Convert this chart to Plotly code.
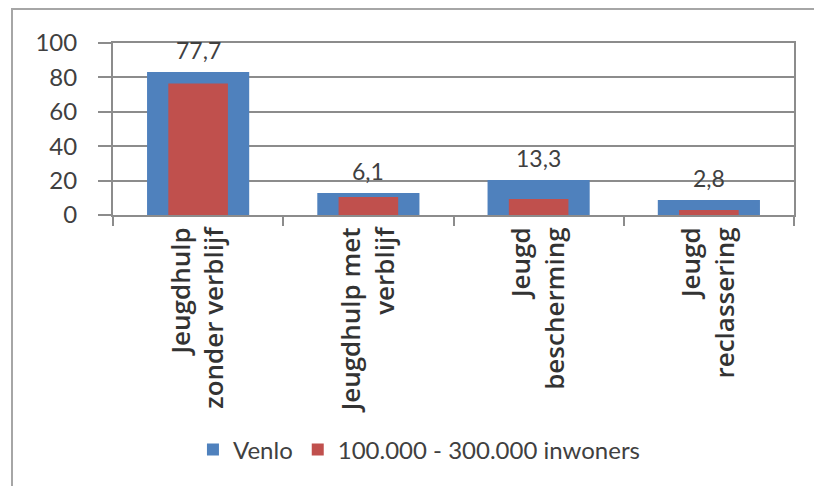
import plotly.graph_objects as go

categories = ["Jeugdhulp<br>zonder verblijf", "Jeugdhulp met<br>verblijf",
              "Jeugd<br>bescherming", "Jeugd<br>reclassering"]
venlo = [83.2, 12.8, 20.3, 8.7]
regio = [76.5, 10.5, 9.3, 2.9]
labels = ["77,7", "6,1", "13,3", "2,8"]
yticks = [0, 20, 40, 60, 80, 100]

BLUE = "#4F81BD"
RED = "#C0504D"
GRID = "#8C8C8C"
TXT = "#404040"

fig = go.Figure()
fig.add_trace(go.Bar(x=categories, y=venlo, name="Venlo", width=0.6,
                     marker=dict(color=BLUE, line=dict(width=0))))
fig.add_trace(go.Bar(x=categories, y=regio, name="100.000 - 300.000 inwoners",
                     width=0.35, marker=dict(color=RED, line=dict(width=0))))

for c, v, t in zip(categories, venlo, labels):
    fig.add_annotation(x=c, y=v, text=t, showarrow=False, yanchor="bottom",
                       yshift=6, font=dict(family="Lato", size=23, color=TXT))

# page has an 8px body margin; plot area in page pixels: x 113..794, y 43..215
OFF = 8
L, R, T, B = 113 - OFF, 794 - OFF, 43 - OFF, 215 - OFF
W, H = 822, 486
def px(page_x):
    return (page_x - OFF - L) / (R - L)
def py(page_y):
    return (B - (page_y - OFF)) / (B - T)

fig.add_shape(type="line", xref="paper", yref="paper", x0=px(11), x1=px(840),
              y0=py(9), y1=py(9), line=dict(color="#A6A6A6", width=2))
fig.add_shape(type="line", xref="paper", yref="paper", x0=px(12), x1=px(12),
              y0=py(9), y1=py(500), line=dict(color="#A6A6A6", width=2))

fig.update_layout(
    width=W, height=H,
    margin=dict(l=L, r=W - R, t=T, b=H - B, autoexpand=False),
    paper_bgcolor="white", plot_bgcolor="white",
    barmode="overlay", bargap=0.4,
    showlegend=True,
    legend=dict(orientation="h", x=0.45, xanchor="center", y=py(450),
                yanchor="middle", font=dict(family="Lato", size=24, color=TXT),
                itemwidth=30, traceorder="normal"),
    xaxis=dict(type="category", showline=True, linecolor=GRID, linewidth=2,
               mirror=True, ticks="outside", tickson="boundaries", ticklen=9,
               tickcolor=GRID, tickwidth=2, tickangle=-90, automargin=False,
               tickfont=dict(family="Open Sans", size=26, color="#333333",
                             weight=600),
               showgrid=False),
    yaxis=dict(range=[0, 100], tickvals=yticks, showline=True, linecolor=GRID,
               linewidth=2, mirror=True, ticks="outside", ticklen=13,
               tickcolor=GRID, tickwidth=2, showgrid=True, gridcolor=GRID,
               gridwidth=2, zeroline=False, automargin=False,
               tickfont=dict(family="Lato", size=24, color=TXT),
               ticklabelstandoff=16),
)

fig.write_html("out.html")
